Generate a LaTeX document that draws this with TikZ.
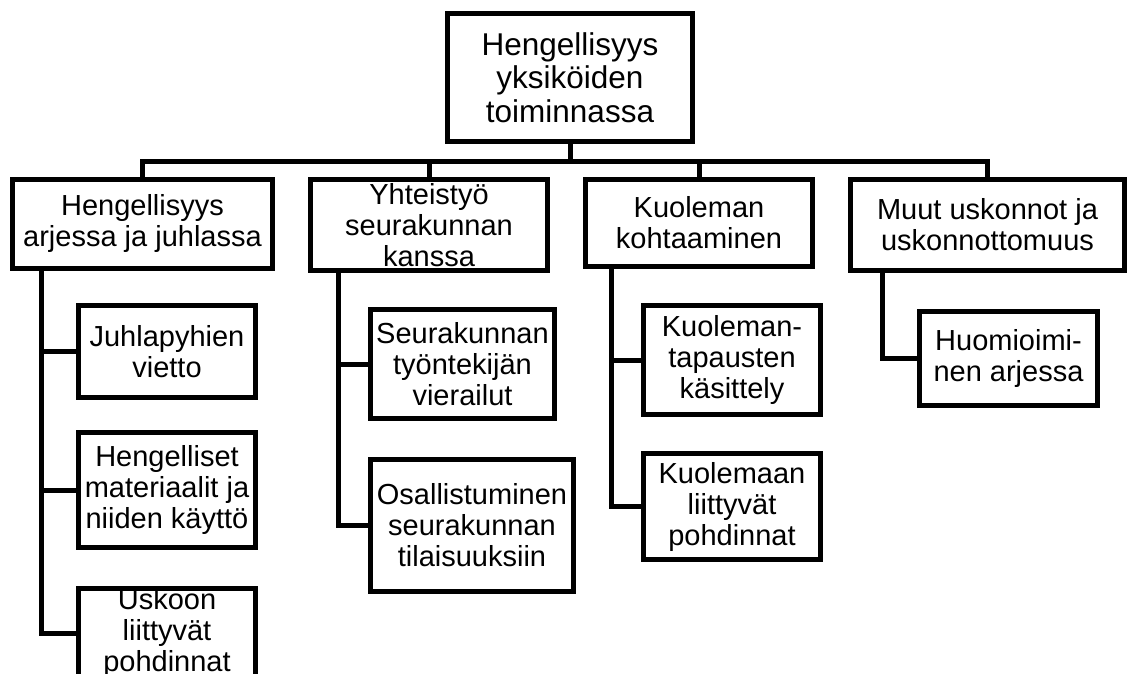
\documentclass[tikz,border=0pt]{standalone}
\usepackage{fontspec}
\setmainfont{Liberation Sans}
\begin{document}
\begin{tikzpicture}[x=1pt,y=-1pt,
  box/.style={draw=black, line width=5pt, fill=white, inner sep=0pt, outer sep=0pt,
    align=center, font=\fontsize{29}{31}\selectfont},
  rootbox/.style={box, font=\fontsize{31.5}{33.5}\selectfont},
  conn/.style={draw=black, line width=5pt}]
\useasboundingbox (0,0) rectangle (1129,674);
\clip (0,0) rectangle (1129,674);
\fill[white] (0,0) rectangle (1129,674);

% connectors (drawn first, boxes on top)
\coordinate (bus) at (0,161);

% root and level 1
\node[rootbox, minimum width=245pt, minimum height=128pt] (root) at (570,77.5)
  {Hengellisyys\\yksiköiden\\toiminnassa};
\node[box, minimum width=260pt, minimum height=89pt] (l1a) at (142.5,224)
  {Hengellisyys\\arjessa ja juhlassa};
\node[box, minimum width=237pt, minimum height=91pt] (l1b) at (429,225)
  {Yhteistyö\\seurakunnan\\kanssa};
\node[box, minimum width=227pt, minimum height=87pt] (l1c) at (699,223)
  {Kuoleman\\kohtaaminen};
\node[box, minimum width=274pt, minimum height=91pt] (l1d) at (987.5,225)
  {Muut uskonnot ja\\uskonnottomuus};

% level 2
\node[box, minimum width=177pt, minimum height=92pt] (c11) at (167,351.5)
  {Juhlapyhien\\vietto};
\node[box, minimum width=177pt, minimum height=115pt] (c12) at (167,490)
  {Hengelliset\\materiaalit ja\\niiden käyttö};
\node[box, minimum width=177pt, minimum height=89pt] (c13) at (167,633)
  {Uskoon\\liittyvät\\pohdinnat};
\node[box, minimum width=184pt, minimum height=109pt] (c21) at (462.5,364)
  {Seurakunnan\\työntekijän\\vierailut};
\node[box, minimum width=203pt, minimum height=132pt] (c22) at (472,525.5)
  {Osallistuminen\\seurakunnan\\tilaisuuksiin};
\node[box, minimum width=177pt, minimum height=109pt] (c31) at (732,360)
  {Kuoleman-\\tapausten\\käsittely};
\node[box, minimum width=177pt, minimum height=106pt] (c32) at (732,506.5)
  {Kuolemaan\\liittyvät\\pohdinnat};
\node[box, minimum width=178pt, minimum height=94pt] (c41) at (1008.5,358.5)
  {Huomioimi-\\nen arjessa};

\begin{scope}[on background layer/.style={}]
\end{scope}

% tree connectors
\draw[conn] (root.south) -- (root.south |- bus);
\draw[conn] (l1a.north) -- (l1a.north |- bus) -- (l1d.north |- bus) -- (l1d.north);
\draw[conn] (l1b.north) -- (l1b.north |- bus);
\draw[conn] (l1c.north) -- (l1c.north |- bus);

\coordinate (s1) at ([xshift=29pt]l1a.south west);
\coordinate (s2) at ([xshift=28pt]l1b.south west);
\coordinate (s3) at ([xshift=26pt]l1c.south west);
\coordinate (s4) at ([xshift=32pt]l1d.south west);

\draw[conn] (s1) |- (c13.west);
\draw[conn] (s1) |- (c11.west);
\draw[conn] (s1) |- (c12.west);
\draw[conn] (s2) |- (c22.west);
\draw[conn] (s2) |- (c21.west);
\draw[conn] (s3) |- (c32.west);
\draw[conn] (s3) |- (c31.west);
\draw[conn] (s4) |- (c41.west);
\end{tikzpicture}
\end{document}
